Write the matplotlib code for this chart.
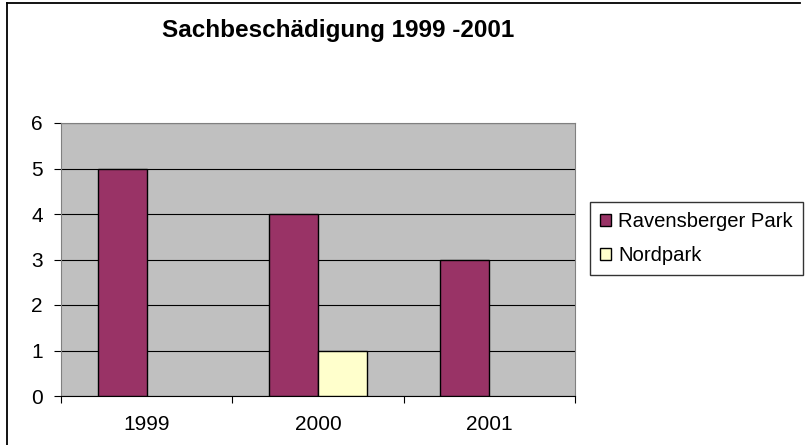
import matplotlib.pyplot as plt
import numpy as np
from matplotlib.patches import Patch
from matplotlib.lines import Line2D

plt.rcParams['font.family'] = ['Liberation Sans', 'DejaVu Sans']

years = ['1999', '2000', '2001']
ravensberger = [5, 4, 3]
nordpark = [0, 1, 0]
series_names = ['Ravensberger Park', 'Nordpark']
colors = ['#993366', '#FFFFCC']

W, H = 805, 445
fig = plt.figure(figsize=(W / 100, H / 100), dpi=100)

# chart border (cut off on the right and bottom)
fig.add_artist(Line2D([7 / W, 7 / W], [0, 1 - 3 / H], transform=fig.transFigure, color='black', lw=1.3))
fig.add_artist(Line2D([7 / W, 800 / W], [1 - 3 / H, 1 - 3 / H], transform=fig.transFigure, color='black', lw=1.3))

ax = fig.add_axes([61 / W, 1 - 396 / H, (575 - 61) / W, (396 - 123) / H])
ax.set_facecolor('#C0C0C0')

x = np.arange(len(years)) + 0.5
w = 0.286
ax.bar(x - w / 2, ravensberger, w, color=colors[0], edgecolor='black', linewidth=1, zorder=3)
nb = ax.bar(x + w / 2, nordpark, w, color=colors[1], edgecolor='black', linewidth=1, zorder=3)
for b, v in zip(nb, nordpark):
    if v == 0:
        b.set_visible(False)

ax.set_xlim(0, 3)
ax.set_ylim(0, 6)
ax.set_yticks(range(7))
ax.yaxis.grid(True, color='black', linewidth=0.8, zorder=1)
ax.set_axisbelow(True)
ax.set_xticks([0, 1, 2, 3])
ax.set_xticklabels([])
ax.set_xticks(x, minor=True)
ax.set_xticklabels(years, minor=True)
ax.tick_params(axis='x', which='minor', length=0, pad=14, labelsize=15)
ax.tick_params(axis='x', which='major', length=5, direction='out')
ax.tick_params(axis='y', length=5, direction='out', labelsize=15, pad=8)
for s in ['top', 'right', 'left']:
    ax.spines[s].set_color('#808080')
ax.spines['bottom'].set_color('black')

fig.text(338 / W, 1 - 30 / H, 'Sachbeschädigung 1999 -2001', ha='center', va='center',
         fontsize=17.5, fontweight='bold')

handles = [Patch(facecolor=c, edgecolor='black', linewidth=1) for c in colors]
leg = fig.legend(handles, series_names, loc='upper left', bbox_to_anchor=(590 / W, 1 - 202 / H),
                 fontsize=14.6, frameon=True, fancybox=False, edgecolor='black',
                 handlelength=0.55, handleheight=0.55, handletextpad=0.35, borderpad=0.5,
                 labelspacing=0.75, borderaxespad=0)
leg.get_frame().set_linewidth(1)

fig.savefig('out.png', dpi=100)
